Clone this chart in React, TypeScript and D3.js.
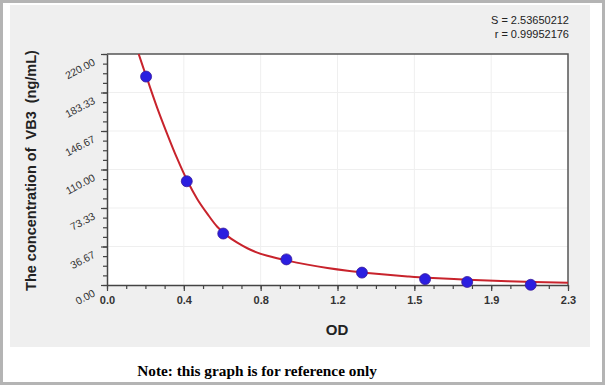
import { useEffect, useRef } from 'react';
import { select, scaleLinear, axisBottom, axisLeft, line, curveCatmullRom, range } from 'd3';

// standard points
const odValues = [0.195, 0.398, 0.58, 0.895, 1.272, 1.587, 1.797, 2.114];
const concValues = [198.5, 98.8, 49.0, 24.4, 11.8, 5.6, 2.9, 0.2];

// fitted curve, sampled along the drawn line
const curveOd = [0.158, 0.18, 0.2, 0.25, 0.3, 0.35, 0.4, 0.45, 0.5, 0.55, 0.6, 0.65, 0.7, 0.75, 0.8, 0.9, 1.0, 1.1, 1.2, 1.3, 1.4, 1.5, 1.6, 1.8, 2.0, 2.3];
const curveConc = [220, 207.5, 196.5, 169, 144, 120.5, 99.5, 82, 68, 55.5, 46.8, 40.3, 35, 30.8, 27.8, 23.2, 19.4, 16.2, 13.6, 11.5, 9.7, 8.2, 6.9, 5.0, 3.6, 2.1];

const xTickLabels = ['0.0', '0.4', '0.8', '1.2', '1.5', '1.9', '2.3'];
const yTickLabels = ['0.00', '36.67', '73.33', '110.00', '146.67', '183.33', '220.00'];
const statLines = ['S = 2.53650212', 'r = 0.99952176'];

const X_MAX = 2.3;
const Y_MAX = 220;

export default function App() {
  const svgRef = useRef<SVGSVGElement>(null);

  useEffect(() => {
    if (!svgRef.current) return;
    const svg = select(svgRef.current);
    svg.selectAll('*').remove();

    const width = 605;
    const height = 385;
    const plot = { left: 107, top: 54, right: 568, bottom: 285 };
    const font = 'Arial, "Liberation Sans", sans-serif';

    // frame + gray panel
    svg.append('rect')
      .attr('x', 1.5).attr('y', 1.5)
      .attr('width', width - 3).attr('height', height - 3)
      .attr('fill', '#fff')
      .attr('stroke', '#b4b4b4')
      .attr('stroke-width', 3);
    svg.append('rect')
      .attr('x', 10).attr('y', 5)
      .attr('width', 580).attr('height', 342)
      .attr('fill', '#efefef');
    svg.append('rect')
      .attr('x', plot.left).attr('y', plot.top)
      .attr('width', plot.right - plot.left).attr('height', plot.bottom - plot.top)
      .attr('fill', '#fff');

    const xScale = scaleLinear().domain([0, X_MAX]).range([plot.left, plot.right]);
    const yScale = scaleLinear().domain([0, Y_MAX]).range([plot.bottom, plot.top]);

    const xMajor = range(xTickLabels.length).map((i) => (i * X_MAX) / (xTickLabels.length - 1));
    const yMajor = range(yTickLabels.length).map((i) => (i * Y_MAX) / (yTickLabels.length - 1));
    const xMinor = range((xMajor.length - 1) * 4 + 1).map((i) => (i * X_MAX) / ((xMajor.length - 1) * 4));
    const yMinor = range((yMajor.length - 1) * 4 + 1).map((i) => (i * Y_MAX) / ((yMajor.length - 1) * 4));

    // faint grid
    const grid = svg.append('g').attr('stroke', '#efefef').attr('stroke-width', 1);
    xMajor.slice(1, -1).forEach((v) => {
      grid.append('line')
        .attr('x1', xScale(v)).attr('x2', xScale(v))
        .attr('y1', plot.top).attr('y2', plot.bottom);
    });
    yMajor.slice(1, -1).forEach((v) => {
      grid.append('line')
        .attr('x1', plot.left).attr('x2', plot.right)
        .attr('y1', yScale(v)).attr('y2', yScale(v));
    });

    // plot border (top + right)
    svg.append('path')
      .attr('d', `M${plot.left},${plot.top}H${plot.right}V${plot.bottom}`)
      .attr('fill', 'none')
      .attr('stroke', '#555')
      .attr('stroke-width', 1.5);

    // minor ticks
    const xMinorAxis = svg.append('g')
      .attr('transform', `translate(0,${plot.bottom})`)
      .call(axisBottom(xScale).tickValues(xMinor).tickSize(4).tickFormat(() => ''));
    xMinorAxis.select('.domain').remove();
    xMinorAxis.selectAll('line').attr('stroke', '#444').attr('stroke-width', 1.2);

    const yMinorAxis = svg.append('g')
      .attr('transform', `translate(${plot.left},0)`)
      .call(axisLeft(yScale).tickValues(yMinor).tickSize(4).tickFormat(() => ''));
    yMinorAxis.select('.domain').remove();
    yMinorAxis.selectAll('line').attr('stroke', '#444').attr('stroke-width', 1.2);

    // major x axis
    const xAxis = svg.append('g')
      .attr('transform', `translate(0,${plot.bottom})`)
      .call(axisBottom(xScale).tickValues(xMajor).tickSize(6).tickSizeOuter(0)
        .tickFormat((_, i) => xTickLabels[i]));
    xAxis.select('.domain').attr('stroke', '#444').attr('stroke-width', 1.5);
    xAxis.selectAll('line').attr('stroke', '#444').attr('stroke-width', 1.2);
    xAxis.selectAll('text')
      .attr('y', 11)
      .attr('fill', '#333')
      .style('font-family', font)
      .style('font-size', '11px')
      .style('font-weight', 'bold');

    // major y axis, slanted labels
    const yAxis = svg.append('g')
      .attr('transform', `translate(${plot.left},0)`)
      .call(axisLeft(yScale).tickValues(yMajor).tickSize(6).tickSizeOuter(0)
        .tickFormat((_, i) => yTickLabels[i]));
    yAxis.select('.domain').attr('stroke', '#444').attr('stroke-width', 1.5);
    yAxis.selectAll('line').attr('stroke', '#444').attr('stroke-width', 1.2);
    yAxis.selectAll('text')
      .attr('x', null)
      .attr('dy', null)
      .attr('transform', 'translate(-11,10) rotate(-28)')
      .attr('fill', '#333')
      .style('font-family', font)
      .style('font-size', '10.5px');

    // fitted curve
    const curveLine = line<number>()
      .x((_, i) => xScale(curveOd[i]))
      .y((d) => yScale(d))
      .curve(curveCatmullRom);
    svg.append('path')
      .datum(curveConc)
      .attr('d', curveLine)
      .attr('fill', 'none')
      .attr('stroke', '#c8232c')
      .attr('stroke-width', 2);

    // standards
    svg.append('g')
      .selectAll('circle')
      .data(concValues)
      .enter()
      .append('circle')
      .attr('cx', (_, i) => xScale(odValues[i]))
      .attr('cy', (d) => yScale(d))
      .attr('r', 5.5)
      .attr('fill', '#2a1ee0')
      .attr('stroke', '#3a1a9a')
      .attr('stroke-width', 0.8);

    // titles
    svg.append('text')
      .attr('transform', `translate(36,${(plot.top + plot.bottom) / 2 + 1}) rotate(-90)`)
      .attr('text-anchor', 'middle')
      .attr('fill', '#222')
      .style('font-family', font)
      .style('font-size', '14.5px')
      .style('font-weight', 'bold')
      .style('white-space', 'pre')
      .text('The concentration of  VB3  (ng/mL)');

    svg.append('text')
      .attr('x', 337)
      .attr('y', 335)
      .attr('text-anchor', 'middle')
      .attr('fill', '#222')
      .style('font-family', font)
      .style('font-size', '15px')
      .style('font-weight', 'bold')
      .text('OD');

    statLines.forEach((s, i) => {
      svg.append('text')
        .attr('x', 569)
        .attr('y', 24 + i * 14)
        .attr('text-anchor', 'end')
        .attr('fill', '#222')
        .style('font-family', font)
        .style('font-size', '11px')
        .text(s);
    });

    svg.append('text')
      .attr('x', 257)
      .attr('y', 376)
      .attr('text-anchor', 'middle')
      .attr('fill', '#000')
      .style('font-family', '"Times New Roman", "Liberation Serif", serif')
      .style('font-size', '15.3px')
      .style('font-weight', 'bold')
      .text('Note: this graph is for reference only');
  }, []);

  return (
    <svg
      ref={svgRef}
      width={605}
      height={385}
      style={{ position: 'absolute', left: 0, top: 0, display: 'block' }}
    />
  );
}
